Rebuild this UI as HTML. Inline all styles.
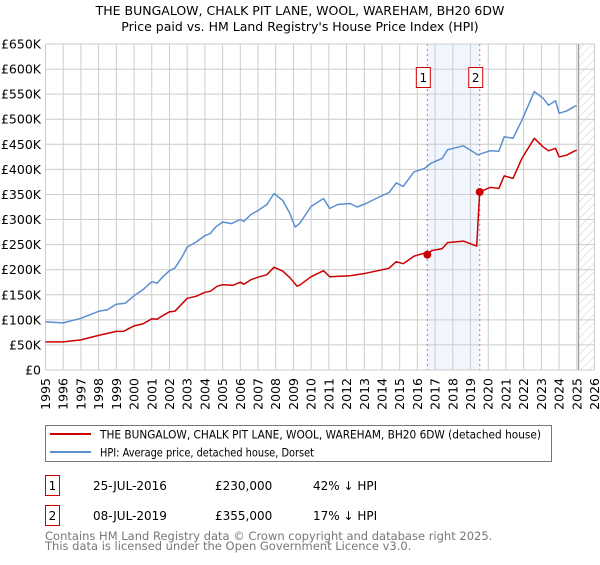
<!DOCTYPE html>
<html><head><meta charset="utf-8"><style>
body{margin:0;background:#fff;}
svg text{font-family:"DejaVu Sans","Liberation Sans",sans-serif;}
</style></head><body>
<svg width="600" height="560" viewBox="0 0 600 560" xmlns="http://www.w3.org/2000/svg">
<defs><pattern id="hatch" width="6" height="6" patternUnits="userSpaceOnUse" patternTransform="rotate(45)"><line x1="0" y1="0" x2="0" y2="6" stroke="#ccc" stroke-width="1"/></pattern></defs>
<text x="300" y="15" text-anchor="middle" font-size="12.5">THE BUNGALOW, CHALK PIT LANE, WOOL, WAREHAM, BH20 6DW</text>
<text x="300" y="31" text-anchor="middle" font-size="12.5">Price paid vs. HM Land Registry's House Price Index (HPI)</text>
<g id="grid"></g>
<g id="marks"></g>
<g id="legend">
<rect x="45.5" y="425.5" width="506" height="36" fill="#fff" stroke="#777"/>
<line x1="50" y1="434" x2="91" y2="434" stroke="#cc0000" stroke-width="2"/>
<text x="100" y="438.5" font-size="11.5" textLength="441" lengthAdjust="spacingAndGlyphs">THE BUNGALOW, CHALK PIT LANE, WOOL, WAREHAM, BH20 6DW (detached house)</text>
<line x1="50" y1="452" x2="91" y2="452" stroke="#5b8fd0" stroke-width="2"/>
<text x="100" y="456.5" font-size="11.5" textLength="214" lengthAdjust="spacingAndGlyphs">HPI: Average price, detached house, Dorset</text>
</g>
<g font-size="12">
<rect x="45.5" y="475.5" width="14" height="20" fill="#fff" stroke="#cc0000"/>
<text x="52.5" y="490" text-anchor="middle">1</text>
<text x="93" y="490">25-JUL-2016</text>
<text x="215" y="490">£230,000</text>
<text x="313" y="490">42% ↓ HPI</text>
<rect x="45.5" y="505.5" width="14" height="20" fill="#fff" stroke="#cc0000"/>
<text x="52.5" y="520" text-anchor="middle">2</text>
<text x="93" y="520">08-JUL-2019</text>
<text x="215" y="520">£355,000</text>
<text x="313" y="520">17% ↓ HPI</text>
</g>
<text x="45" y="540" font-size="11.5" fill="#777">Contains HM Land Registry data © Crown copyright and database right 2025.</text>
<text x="45" y="550" font-size="11.5" fill="#777">This data is licensed under the Open Government Licence v3.0.</text>
</svg>
<script>
const yTicks=[0,50,100,150,200,250,300,350,400,450,500,550,600,650];
const yTickLabels=["£0","£50K","£100K","£150K","£200K","£250K","£300K","£350K","£400K","£450K","£500K","£550K","£600K","£650K"];
const xYears=[1995,1996,1997,1998,1999,2000,2001,2002,2003,2004,2005,2006,2007,2008,2009,2010,2011,2012,2013,2014,2015,2016,2017,2018,2019,2020,2021,2022,2023,2024,2025,2026];
const hpiT=[1995,1996,1997,1998,1998.5,1999,1999.5,2000,2000.5,2001,2001.3,2001.6,2002,2002.3,2002.7,2003,2003.5,2004,2004.3,2004.6,2005,2005.5,2006,2006.2,2006.6,2007,2007.5,2007.9,2008.4,2008.8,2009.1,2009.35,2010,2010.7,2011.05,2011.5,2012.2,2012.6,2013.1,2013.9,2014.4,2014.8,2015.2,2015.8,2016.4,2016.8,2017.4,2017.7,2018.6,2019.4,2020.1,2020.6,2020.9,2021.4,2021.9,2022.6,2023.1,2023.4,2023.8,2024.0,2024.4,2024.9,2025.0];
const hpiV=[96,94,103,117,120,131,133,148,160,176,173,185,198,203,225,245,255,268,272,285,295,292,300,296,310,318,330,352,338,312,285,292,326,342,322,330,332,325,332,346,354,373,366,395,402,413,422,439,447,429,437,436,465,462,498,555,542,528,537,512,516,526,527];
const priceT=[1995,1996,1997,1998,1999,1999.4,2000,2000.5,2001,2001.3,2001.6,2002,2002.3,2003,2003.5,2004,2004.3,2004.7,2005,2005.6,2006,2006.2,2006.6,2007,2007.5,2007.9,2008.4,2008.8,2009.2,2009.35,2010,2010.7,2011.05,2012.2,2013.1,2013.9,2014.4,2014.8,2015.2,2015.8,2016.4,2016.56,2016.8,2017.4,2017.7,2018.6,2019.35,2019.52,2020.1,2020.6,2020.9,2021.4,2021.9,2022.6,2023.1,2023.4,2023.8,2024.0,2024.4,2024.9,2025.0];
const priceV=[56,56,60,69,77,77,88,92,102,101,108,116,117,143,147,155,157,167,170,169,175,171,180,185,190,205,197,184,167,169,186,198,186,188,193,199,203,216,212,227,233,230,238,242,254,257,247,355,364,362,387,382,422,462,445,437,442,425,428,437,438];
const saleDates=[2016.56,2019.52];
const salePrices=[230,355];
const saleLabels=["1","2"];
const forecastStart=2025.1;

const NS="http://www.w3.org/2000/svg";
const X0=45.5,X1=594.5,Y0=370,Y1=44,T0=1995,T1=2026,VMAX=650;
const xs=t=>X0+(t-T0)/(T1-T0)*(X1-X0);
const ys=v=>Y0-v/VMAX*(Y0-Y1);
function mk(tag,attrs,parent){const e=document.createElementNS(NS,tag);for(const k in attrs)e.setAttribute(k,attrs[k]);parent.appendChild(e);return e;}
const grid=document.getElementById('grid'),marks=document.getElementById('marks');
let band=mk('rect',{x:xs(saleDates[0]),y:Y1,width:xs(saleDates[1])-xs(saleDates[0]),height:Y0-Y1,fill:'#eef3fc',opacity:0.8},grid);


yTicks.forEach((v,i)=>{
  let l=mk('line',{x1:X0,x2:X1,y1:ys(v),y2:ys(v),stroke:'#ccc','stroke-width':1},grid);
  
  
  let t=mk('text',{x:41,y:ys(v)+4.5,'text-anchor':'end','font-size':12.5},grid);
  t.textContent=yTickLabels[i];
  
  
});
xYears.forEach(yr=>{
  let l=mk('line',{x1:xs(yr),x2:xs(yr),y1:Y1,y2:Y0,stroke:'#ccc','stroke-width':1},grid);
  
  
  let t=mk('text',{x:0,y:0,'text-anchor':'end','font-size':12.5,transform:`translate(${xs(yr)+4.5},378) rotate(-90)`},grid);
  t.textContent=yr;
  
  
});
let hatch=mk('rect',{x:xs(forecastStart),y:Y1,width:X1-xs(forecastStart),height:Y0-Y1,fill:'url(#hatch)'},grid);


let fl=mk('line',{x1:xs(forecastStart),x2:xs(forecastStart),y1:Y1,y2:Y0,stroke:'#999','stroke-width':1.2},grid);


saleDates.forEach((d,i)=>{
  let l=mk('line',{x1:xs(d),x2:xs(d),y1:Y1,y2:Y0,stroke:'#ee6677','stroke-width':1,'stroke-dasharray':'2,3'},grid);
  
  
});
function path(T,V){return T.map((t,i)=>(i?'L':'M')+xs(t).toFixed(1)+','+ys(V[i]).toFixed(1)).join('');}
let hp=mk('path',{d:path(hpiT,hpiV),fill:'none',stroke:'#5b8fd0','stroke-width':1.5,'stroke-linejoin':'round'},marks);


let pp=mk('path',{d:path(priceT,priceV),fill:'none',stroke:'#cc0000','stroke-width':1.5,'stroke-linejoin':'round'},marks);


saleDates.forEach((d,i)=>{
  let c=mk('circle',{cx:xs(d),cy:ys(salePrices[i]),r:4,fill:'#cc0000'},marks);
  
  
  let r=mk('rect',{x:xs(d)-11,y:67.5,width:14,height:20,fill:'#fff',stroke:'#cc0000'},marks);
  
  
  let t=mk('text',{x:xs(d)-4,y:82,'text-anchor':'middle','font-size':12},marks);
  t.textContent=saleLabels[i];
  
  
});
</script>
</body></html>
